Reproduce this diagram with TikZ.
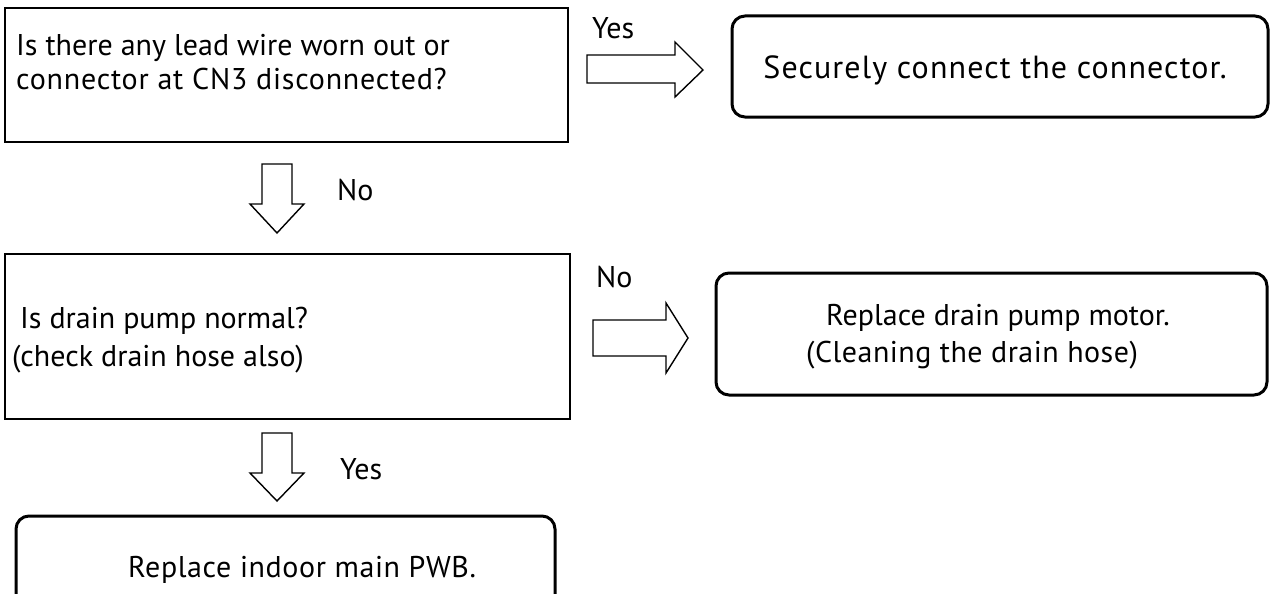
\documentclass[tikz,border=0pt]{standalone}
\usepackage{fontspec}
\setmainfont{PT Sans}
\begin{document}
\begin{tikzpicture}[x=1pt,y=-1pt,
  font=\fontsize{30}{36}\selectfont,
  qbox/.style={draw, line width=2.2pt, rectangle, inner sep=0pt},
  rbox/.style={draw, line width=3pt, rectangle, rounded corners=13pt, inner sep=0pt},
  barrow/.style={draw, line width=1.4pt, line join=miter, fill=white},
  txt/.style={anchor=base west, inner sep=0pt},
  ctxt/.style={anchor=base, inner sep=0pt},
  spaced/.style={font=\fontsize{30}{36}\selectfont\addfontfeature{LetterSpace=#1}}]
\useasboundingbox (0,0) rectangle (1271,594);
\clip (0,0) rectangle (1271,594);
% boxes
\node[qbox, minimum width=563pt, minimum height=134pt] (q1) at (286.5,75) {};
\node[qbox, minimum width=565pt, minimum height=165pt] (q2) at (287.5,336.5) {};
\node[rbox, minimum width=536pt, minimum height=101pt] (r1) at (1000,66.5) {};
\node[rbox, minimum width=551pt, minimum height=122pt] (r2) at (991.5,334) {};
\node[rbox, minimum width=539pt, minimum height=110pt] (r3) at (285.5,571) {};
% texts
\node[txt] (t1a) at (16,56) {Is there any lead wire worn out or};
\node[txt, spaced=2.6] (t1b) at (16,89) {connector at CN3 disconnected?};
\node[txt] (t2a) at (20,328) {Is drain pump normal?};
\node[txt] (t2b) at (12,366) {(check drain hose also)};
\node[ctxt, font=\fontsize{32}{38}\selectfont\addfontfeature{LetterSpace=3.5}] (tr1) at (995,78) {Securely connect the connector.};
\node[txt] (tr2a) at (826,325) {Replace drain pump motor.};
\node[txt, spaced=1.6] (tr2b) at (806,362) {(Cleaning the drain hose)};
\node[txt, spaced=2] (tr3) at (128,577) {Replace indoor main PWB.};
% labels
\node[txt] (lyes1) at (592,38) {Yes};
\node[txt] (lno1) at (337,200) {No};
\node[txt] (lno2) at (596,287) {No};
\node[txt] (lyes2) at (340,479) {Yes};
% block arrows
\draw[barrow] (587,55) -- (675,55) -- (675,42) -- (703,70) -- (675,97) -- (675,83) -- (587,83) -- cycle;
\draw[barrow] (262,164) -- (292,164) -- (292,204) -- (304,204) -- (277,233) -- (250,204) -- (262,204) -- cycle;
\draw[barrow] (593,320) -- (666,320) -- (666,303) -- (688,338) -- (666,373) -- (666,356) -- (593,356) -- cycle;
\draw[barrow] (262,433) -- (292,433) -- (292,473) -- (304,473) -- (277,501) -- (250,473) -- (262,473) -- cycle;
\end{tikzpicture}
\end{document}
